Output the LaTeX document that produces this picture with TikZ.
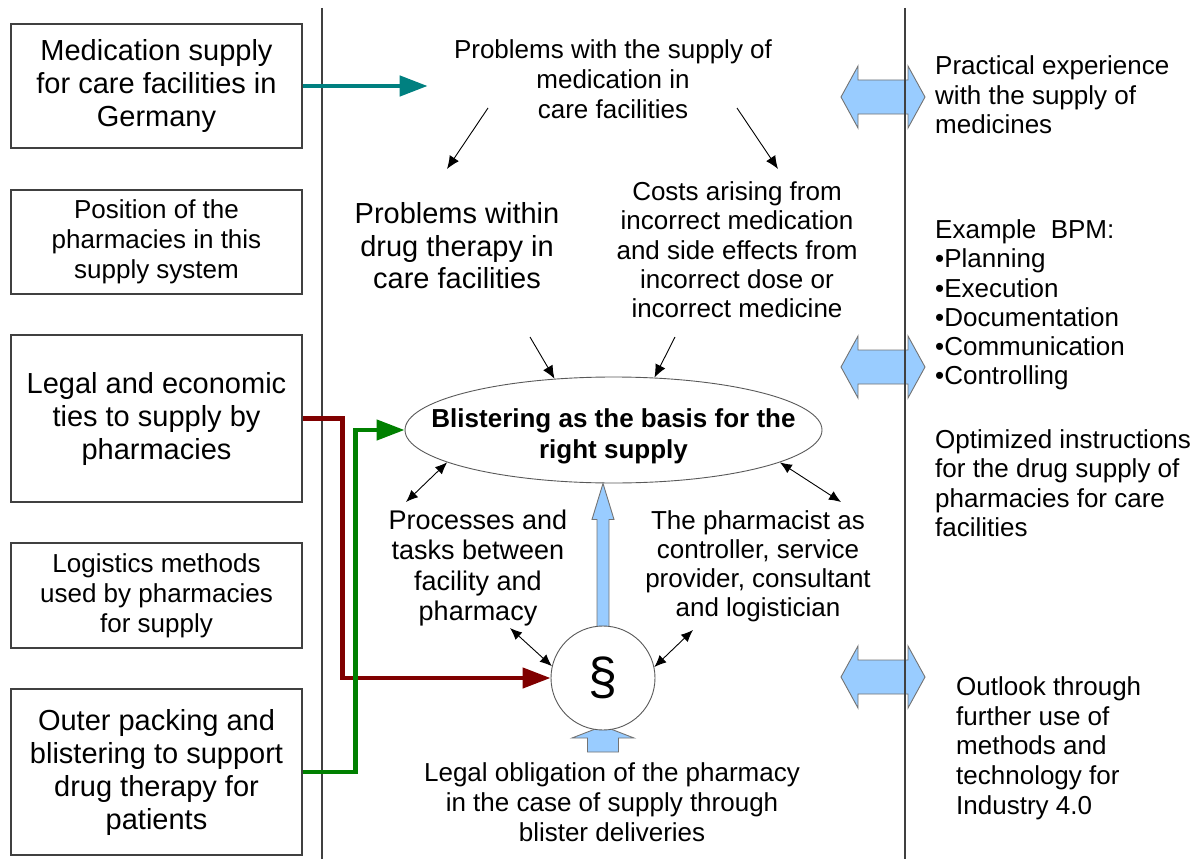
\documentclass[tikz,border=0pt]{standalone}
\usepackage{fontspec}
\setmainfont{Liberation Sans}
\usetikzlibrary{arrows.meta,calc,shapes.geometric}

\definecolor{tealarrow}{RGB}{0,128,128}
\definecolor{redarrow}{RGB}{128,0,0}
\definecolor{greenarrow}{RGB}{0,128,0}
\definecolor{blockblue}{RGB}{153,204,255}
\definecolor{linegray}{RGB}{64,64,64}

\tikzstyle{box}=[draw=linegray, line width=1.3pt, minimum width=291pt, align=center, inner sep=0pt]
\tikzstyle{bigtext}=[font=\fontsize{29}{33}\selectfont]
\tikzstyle{midtext}=[font=\fontsize{26}{30}\selectfont]
\tikzstyle{txt}=[align=center, inner sep=0pt]
\tikzstyle{note}=[align=left, anchor=west, inner sep=0pt, font=\fontsize{26}{29.5}\selectfont]
\tikzstyle{divider}=[draw=linegray, line width=1.3pt]
\tikzstyle{thin arrow}=[draw, line width=0.9pt, -{Latex[length=13pt,width=11pt]}]
\tikzstyle{two way}=[draw, line width=0.9pt, {Latex[length=12pt,width=10pt]}-{Latex[length=12pt,width=10pt]}]
\tikzstyle{feed}=[draw, line width=4.5pt, -{Triangle[length=28pt,width=20pt]}]
\tikzstyle{block}=[fill=blockblue, draw=gray!90!black, line width=0.9pt]

\begin{document}
\begin{tikzpicture}[x=1pt, y=-1pt]
	\useasboundingbox (0,0) rectangle (1203,859);

	% left column
	\node[box, bigtext, minimum height=124pt] (med) at (156.5,86) {Medication supply\\for care facilities in\\Germany};
	\node[box, midtext, minimum height=104pt] (pos) at (156.5,242) {Position of the\\pharmacies in this\\supply system};
	\node[box, bigtext, minimum height=167pt] (ties) at (156.5,418.5) {Legal and economic\\ties to supply by\\pharmacies};
	\node[box, midtext, minimum height=105pt] (logi) at (156.5,595.5) {Logistics methods\\used by pharmacies\\for supply};
	\node[box, bigtext, minimum height=166pt] (outer) at (156.5,772) {Outer packing and\\blistering to support\\drug therapy for\\patients};

	% middle column
	\node[txt, midtext] (probl) at (613,79) {Problems with the supply of\\medication in\\care facilities};
	\node[txt, font=\fontsize{29}{32.5}\selectfont] (within) at (457,246) {Problems within\\drug therapy in\\care facilities};
	\node[txt, font=\fontsize{26}{29.3}\selectfont] (costs) at (737,250) {Costs arising from\\incorrect medication\\and side effects from\\incorrect dose or\\incorrect medicine};
	\node[ellipse, draw=gray!70!black, line width=0.9pt, minimum width=417pt, minimum height=106pt,
		label={[txt, yshift=-6pt, font=\bfseries\fontsize{26}{31}\selectfont]center:{Blistering as the basis for the\\right supply}}] (blist) at (613.5,430) {};
	\node[txt, font=\fontsize{27}{30.5}\selectfont] (procs) at (478,568) {Processes and\\tasks between\\facility and\\pharmacy};
	\node[txt, font=\fontsize{26}{29}\selectfont] (pharm) at (758,566) {The pharmacist as\\controller, service\\provider, consultant\\and logistician};
	\node[txt, midtext] (legal) at (612,802) {Legal obligation of the pharmacy\\in the case of supply through\\blister deliveries};

	\coordinate (sectc) at (603,678);
	\path[block] (sectc |- blist.south) -- ++(11,36) -- ++(-5,0) -- ++(0,112) -- ++(-12,0) -- ++(0,-112) -- ++(-5,0) -- cycle;
	\path[block] (sectc) ++(0,48) -- ++(31,12) -- ++(-15.5,0) -- ++(0,14) -- ++(-31,0) -- ++(0,-14) -- ++(-15.5,0) -- cycle;
	\node[circle, draw=gray!70!black, line width=0.9pt, fill=white, minimum size=104pt, inner sep=0pt, font=\fontsize{52}{52}\selectfont] (sect) at (sectc) {§};

	% right column
	\foreach \y in {97,367,677}
		\path[block] (841,\y) -- (858,\y-31) -- (858,\y-17) -- (908,\y-17) -- (908,\y-31) -- (925,\y) -- (908,\y+31) -- (908,\y+17) -- (858,\y+17) -- (858,\y+31) -- cycle;
	\node[note] (pract) at (935,95) {Practical experience\\with the supply of\\medicines};
	\node[note, font=\fontsize{26}{29.2}\selectfont] (bpm) at (935,305) {Example\ \ BPM:\\•Planning\\•Execution\\•Documentation\\•Communication\\•Controlling};
	\node[note] (optim) at (935,483) {Optimized instructions\\for the drug supply of\\pharmacies for care\\facilities};
	\node[note, font=\fontsize{26}{29.7}\selectfont] (outl) at (956,748) {Outlook through\\further use of\\methods and\\technology for\\Industry 4.0};

	\foreach \x in {322,905}
		\path[divider] (\x,8) -- (\x,859);

	\path[feed, tealarrow] (med.east) -- ++(125,0);
	\path[feed, redarrow] (ties.east) -- ++(40,0) |- (sect.west);
	\path[feed, greenarrow] (outer.east) -- ++(53,0) |- (blist.west);

	\path[thin arrow] ($(probl)+(-125,29)$) -- ($(within)+(-10,-77)$);
	\path[thin arrow] ($(probl)+(124,29)$) -- ($(costs)+(41,-81)$);
	\path[thin arrow] ($(within)+(73,91)$) -- (blist.139);
	\path[thin arrow] ($(costs)+(-62,87)$) -- (blist.52);
	\path[two way] (blist.191) -- ($(procs)+(-72,-66)$);
	\path[two way] (blist.349) -- ($(pharm)+(83,-64)$);
	\path[two way] ($(procs)+(32,60)$) -- (sect.167);
	\path[two way] ($(pharm)+(-65,64)$) -- (sect.12);
\end{tikzpicture}
\end{document}
